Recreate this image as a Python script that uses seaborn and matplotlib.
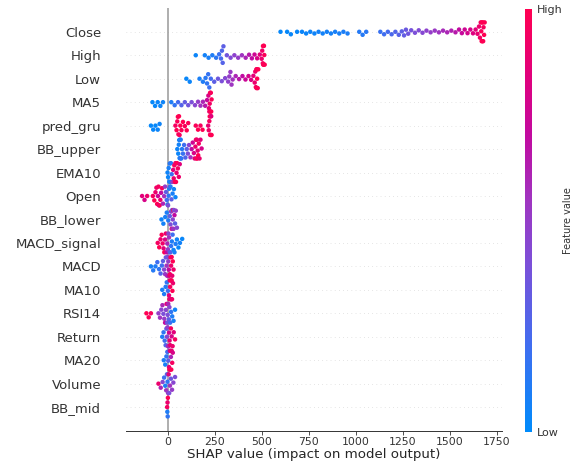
import numpy as np
import pandas as pd
import seaborn as sns
import matplotlib.pyplot as plt
from matplotlib.colors import LinearSegmentedColormap, Normalize
from matplotlib.cm import ScalarMappable

# features, top to bottom (mean |SHAP| order)
features = ["Close", "High", "Low", "MA5", "pred_gru", "BB_upper", "EMA10", "Open",
            "BB_lower", "MACD_signal", "MACD", "MA10", "RSI14", "Return", "MA20",
            "Volume", "BB_mid"]

# (shap value, normalised feature value)
close = [(600, .02), (635, .02), (655, .03), (688, .03), (714, .04), (736, .04), (758, .05),
         (780, .05), (802, .06), (824, .06), (846, .07), (868, .07), (890, .08), (912, .08),
         (934, .09), (956, .09), (1018, .12), (1036, .12), (1055, .13),
         (1130, .18), (1150, .2), (1170, .22), (1190, .24), (1210, .26), (1228, .28),
         (1244, .3), (1256, .32), (1266, .34), (1278, .36), (1294, .38), (1314, .4),
         (1334, .42), (1354, .44), (1375, .47), (1397, .5), (1419, .52), (1441, .55),
         (1463, .58), (1485, .6), (1507, .62), (1529, .65), (1548, .7), (1563, .72),
         (1578, .75), (1593, .78), (1608, .8), (1622, .83), (1636, .86), (1646, .88),
         (1654, .9), (1659, .93), (1663, .95), (1666, .97), (1669, 1.), (1672, .98),
         (1675, 1.), (1678, .96), (1681, 1.), (1684, .99), (1668, 1.), (1676, .99)]
high = [(150, .04), (198, .06), (218, .08), (238, .1), (258, .14), (274, .18), (284, .22),
        (289, .25), (293, .27), (297, .3), (315, .36), (335, .42), (355, .47), (375, .5),
        (395, .55), (415, .6), (433, .65), (448, .7), (462, .75), (476, .8), (490, .85),
        (500, .9), (503, .92), (506, .94), (508, .96), (510, .98), (512, 1.), (514, .97),
        (516, 1.), (511, .99), (507, 1.)]
low = [(100, .03), (118, .04), (170, .08), (188, .1), (202, .13), (210, .15), (216, .17),
       (222, .19), (230, .21), (248, .3), (268, .35), (288, .4), (306, .44), (322, .48),
       (328, .5), (334, .52), (340, .54), (346, .56), (362, .6), (380, .65), (398, .7),
       (414, .74), (430, .78), (444, .82), (456, .86), (463, .9), (466, .92), (469, .94),
       (472, .96), (474, .98), (476, 1.), (479, .97), (482, 1.), (473, .99)]
ma5 = [(-80, .02), (-66, .03), (-52, .04), (-38, .04), (-24, .05), (20, .1), (38, .16),
       (56, .22), (74, .27), (92, .32), (110, .36), (128, .4), (146, .45), (162, .5),
       (175, .55), (188, .6), (200, .65), (210, .72), (217, .8), (220, .86), (222, .9),
       (224, .93), (226, .96), (228, 1.), (230, .97), (232, 1.), (234, .98)]
pred_gru = [(-88, .02), (-76, .03), (-64, .02), (-52, .04), (-42, .05),
            (42, .95), (48, 1.), (52, .97), (55, 1.), (58, .98), (61, 1.), (64, .96),
            (68, 1.), (74, .98), (82, 1.), (92, .97), (102, 1.), (110, .98), (150, .98),
            (162, 1.), (175, .96), (186, 1.), (216, .88), (219, .92), (222, .95),
            (224, 1.), (226, .9), (228, 1.), (230, .97), (232, .85), (234, 1.)]
bb_upper = [(52, .05), (57, .04), (60, .06), (62, .05), (64, .08), (66, .1), (68, .12),
            (70, .1), (73, .15), (77, .12), (82, .18), (88, .2), (95, .25), (102, .3),
            (108, .4), (114, .45), (122, .55), (128, .7), (134, .75), (140, .8),
            (144, .85), (148, .9), (151, .95), (154, 1.), (156, .92), (158, .98),
            (160, .88), (163, 1.), (166, .95), (170, .9), (175, .85), (181, .8)]
ema10 = [(0, .05), (3, .04), (6, .08), (9, .1), (12, .12), (15, .06), (18, .15), (22, .2),
         (26, .5), (30, .85), (33, .9), (36, .95), (39, 1.), (42, .92), (45, .98),
         (48, .88), (51, 1.), (55, .95), (60, .9), (65, .85)]
open_ = [(-135, .85), (-122, .8), (-108, .9), (-78, .95), (-70, 1.), (-64, .9), (-59, .92),
         (-55, 1.), (-51, .75), (-48, .95), (-45, .8), (-42, .98), (-38, .9), (-34, .7),
         (-29, .95), (-24, .6), (-18, .55), (-13, .5), (-8, .3), (-4, .2), (0, .1),
         (3, .4), (6, .15), (9, .05), (12, .45), (16, .1), (21, .3), (27, .08),
         (34, .05), (42, .04)]
bb_lower = [(-32, .05), (-22, .06), (-12, .08), (-4, .1), (4, .12), (12, .3), (16, .4),
            (19, .5), (22, .9), (24, .35), (26, .6), (28, .45), (30, 1.), (32, .55),
            (34, .4), (37, .7), (40, .3), (44, .5), (50, .45)]
macd_signal = [(-52, .95), (-44, 1.), (-37, .9), (-31, .98), (-26, .92), (-21, .85),
               (-17, 1.), (-13, .8), (-9, .9), (-5, .7), (-1, .6), (2, .5), (5, .45),
               (8, .55), (11, .4), (15, .25), (19, .15), (23, .1), (27, .2), (32, .05),
               (37, .08), (43, .1), (50, .05), (58, .03), (66, .06), (78, .03)]
macd = [(-88, .08), (-76, .12), (-64, .1), (-54, .2), (-45, .15), (-37, .25), (-30, .2),
        (-24, .3), (-18, .45), (-13, .5), (-9, .35), (-5, .55), (-2, .6), (1, .4),
        (4, .5), (7, .7), (10, .85), (13, .95), (16, 1.), (19, .9), (22, .98), (25, .88),
        (28, 1.), (32, .92)]
ma10 = [(-28, .08), (-18, .1), (-10, .12), (-4, .15), (2, .2), (8, .85), (10, 1.), (12, .9),
        (14, .95), (16, .7), (18, 1.), (20, .88), (22, .98), (24, .92), (26, 1.), (29, .9)]
rsi14 = [(-112, 1.), (-100, .98), (-88, .95), (-48, .5), (-40, .55), (-33, .45), (-27, .6),
         (-22, .4), (-17, .5), (-13, .7), (-9, .45), (-5, .85), (-2, .35), (1, .4),
         (4, .6), (7, .3), (10, .45), (14, .2), (19, .15), (25, .1), (32, .08), (40, .05)]
return_ = [(-28, .1), (-21, .15), (-15, .2), (-10, .25), (-6, .3), (-3, .45), (0, .5),
           (2, .55), (5, .6), (8, .75), (11, .85), (14, .9), (18, .95), (22, .8),
           (27, .9), (33, .85), (40, .95)]
ma20 = [(-20, .1), (-12, .08), (-6, .15), (-1, .2), (4, .3), (8, .85), (10, 1.), (12, .7),
        (14, .95), (16, .9), (18, .6), (20, 1.), (22, .88), (25, .95), (28, .8)]
volume = [(-48, .9), (-36, .6), (-26, .45), (-18, .2), (-12, .1), (-7, .55), (-3, .3),
          (0, .15), (3, .5), (6, .85), (9, .4), (13, .55), (18, .35), (24, .5),
          (31, .45), (40, .4)]
bb_mid = [(-2, .95), (-1, .1), (0, .9), (1, .15), (2, 1.)]

rows = [close, high, low, ma5, pred_gru, bb_upper, ema10, open_, bb_lower, macd_signal,
        macd, ma10, rsi14, return_, ma20, volume, bb_mid]

df = pd.DataFrame(
    [(name, s, v) for name, pts in zip(features, rows) for s, v in pts],
    columns=["feature", "shap", "value"],
)

# shap-like blue -> purple -> red map
cmap = LinearSegmentedColormap.from_list(
    "shap_red_blue",
    [(0.0, "#008bfb"), (0.2, "#3f6ef0"), (0.4, "#7c4fd8"), (0.55, "#a034c0"),
     (0.7, "#c10aa0"), (0.85, "#e2007a"), (1.0, "#ff0052")],
)

sns.set_style("white")
plt.rcParams["font.family"] = ["DejaVu Sans"]

fig = plt.figure(figsize=(5.81, 4.63), dpi=100)
ax = fig.add_axes([0.217, 0.07, 0.647, 0.912])

for i in range(len(features)):
    ax.axhline(i, color="#cccccc", lw=0.5, dashes=(1, 5), zorder=-1)
ax.axvline(0, color="#999999", lw=1.1, zorder=-1)

sns.swarmplot(
    data=df, x="shap", y="feature", hue="value", order=features,
    palette=cmap, hue_norm=(0, 1), size=3.2, linewidth=0, legend=False,
    orient="h", ax=ax, warn_thresh=1,
)

ax.set_xlim(-220, 1776)
ax.set_ylim(len(features), -1)
ax.set_xticks([0, 250, 500, 750, 1000, 1250, 1500, 1750])
ax.set_xlabel("SHAP value (impact on model output)", fontsize=9.6, labelpad=1)
ax.set_ylabel("")
for side in ["left", "top", "right"]:
    ax.spines[side].set_visible(False)
ax.spines["bottom"].set_color("#333333")
ax.spines["bottom"].set_linewidth(0.7)
ax.tick_params(axis="y", length=0, pad=18, labelsize=9.5, labelcolor="#333333")
ax.tick_params(axis="x", length=3, width=0.6, color="#333333", labelsize=7.8,
               labelcolor="#333333", bottom=True, pad=1.5)

# colour bar
cax = fig.add_axes([0.9036, 0.067, 0.012, 0.913])
sm = ScalarMappable(norm=Normalize(0, 1), cmap=cmap)
cb = fig.colorbar(sm, cax=cax, ticks=[0, 1])
cb.set_ticklabels(["Low", "High"])
cb.ax.tick_params(labelsize=8, length=0, labelcolor="#333333")
cb.set_label("Feature value", size=7, labelpad=0, color="#333333")
cb.outline.set_visible(False)

fig.savefig("out.png", dpi=100)
